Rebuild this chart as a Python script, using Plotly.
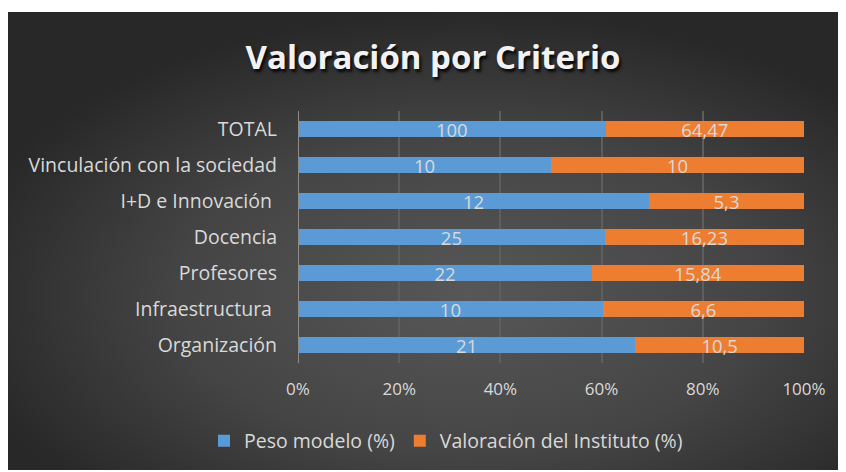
import base64
import plotly.graph_objects as go

categories = ["Organización", "Infraestructura\u00a0", "Profesores", "Docencia",
              "I+D e Innovación\u00a0", "Vinculación con la sociedad", "TOTAL"]
peso_modelo = [21, 10, 22, 25, 12, 10, 100]
valoracion_instituto = [10.5, 6.6, 15.84, 16.23, 5.3, 10, 64.47]
x_tick_vals = [0, 20, 40, 60, 80, 100]
x_tick_text = ["0%", "20%", "40%", "60%", "80%", "100%"]


def fmt(v):
    return ("%g" % v).replace(".", ",")


# page body has an 8px margin; figure coords = screen coords - 8
OFF = 8
W, H = 846 - OFF, 472 - OFF
L = 298 - OFF
R = W - (804 - OFF)
T = 111 - OFF
B = H - (363 - OFF)
pw, ph = W - L - R, H - T - B

FONT = "Open Sans"
LABEL = "#d9d9d9"

svg = ("<svg xmlns='http://www.w3.org/2000/svg' width='838' height='458' "
       "preserveAspectRatio='none'><defs><radialGradient id='g' cx='55%' cy='62%' r='62%'>"
       "<stop offset='0' stop-color='#575757'/><stop offset='0.55' stop-color='#454545'/>"
       "<stop offset='1' stop-color='#282828'/></radialGradient></defs>"
       "<rect width='838' height='458' fill='url(#g)'/></svg>")
src = "data:image/svg+xml;base64," + base64.b64encode(svg.encode()).decode()

bar_text_font = dict(color=LABEL, size=18.5, family=FONT)

fig = go.Figure()
fig.add_trace(go.Bar(
    y=categories, x=peso_modelo, orientation="h", name="Peso modelo (%)",
    marker=dict(color="#5b9bd5", line=dict(width=0)),
    text=[fmt(v) for v in peso_modelo], textposition="inside", textangle=0,
    constraintext="none",
    insidetextanchor="middle", textfont=bar_text_font, hoverinfo="skip"))
fig.add_trace(go.Bar(
    y=categories, x=valoracion_instituto, orientation="h",
    name="Valoración del Instituto (%)",
    marker=dict(color="#ed7d31", line=dict(width=0)),
    text=[fmt(v) for v in valoracion_instituto], textposition="inside", textangle=0,
    constraintext="none",
    insidetextanchor="middle", textfont=bar_text_font, hoverinfo="skip"))

fig.update_layout(
    width=W, height=H,
    barmode="stack", barnorm="percent", bargap=0.56,
    paper_bgcolor="white", plot_bgcolor="rgba(0,0,0,0)",
    margin=dict(l=L, r=R, t=T, b=B, autoexpand=False),
    font=dict(family=FONT, color=LABEL, size=17),
    uniformtext=dict(mode="show", minsize=10),
    title=dict(text="<b>Valoración por Criterio</b>", x=(433 - OFF) / W, xanchor="center",
               y=1 - (57 - OFF) / H, yanchor="middle",
               font=dict(family=FONT, size=33, color="#f2f2f2",
                         shadow="2px 3px 3px rgba(0,0,0,0.85)")),
    xaxis=dict(range=[0, 100], tickvals=x_tick_vals, ticktext=x_tick_text,
               showgrid=True, gridcolor="#5e5e5e", gridwidth=1.5,
               zeroline=False, showline=False, fixedrange=True,
               tickfont=dict(size=17, color=LABEL, family=FONT),
               ticks="", ticklabelstandoff=14),
    yaxis=dict(categoryorder="array", categoryarray=categories,
               showgrid=False, zeroline=False, showline=False,
               tickfont=dict(size=19.5, color=LABEL, family=FONT),
               ticks="", ticklabelstandoff=20),
    legend=dict(orientation="h", x=(446 - 298) / pw, xanchor="center",
                y=(ph - (441 - 111)) / ph, yanchor="middle",
                font=dict(size=19.5, color=LABEL, family=FONT),
                bgcolor="rgba(0,0,0,0)", itemwidth=30, traceorder="normal"),
    showlegend=True,
    images=[dict(source=src, xref="paper", yref="paper",
                 x=(8 - 298) / pw, y=(363 - 12) / ph,
                 sizex=838 / pw, sizey=458 / ph, sizing="stretch",
                 xanchor="left", yanchor="top", layer="below")],
    shapes=[dict(type="line", xref="x", yref="paper", x0=0, x1=0, y0=0, y1=1,
                 line=dict(color="#8c8c8c", width=2), layer="above")],
)

fig.write_html("out.html")
